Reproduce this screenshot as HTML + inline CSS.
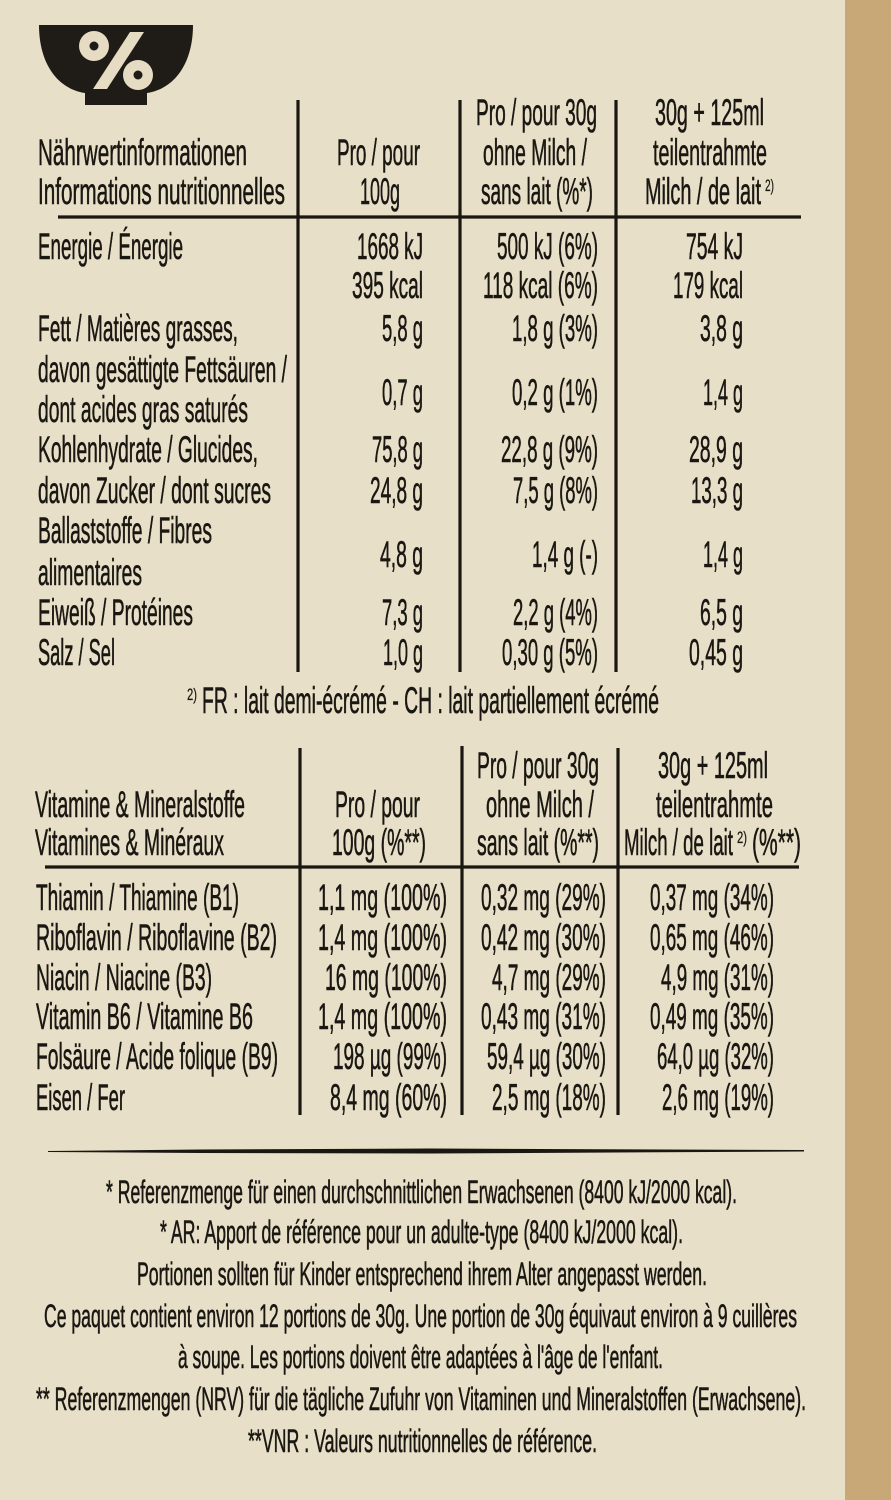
<!DOCTYPE html>
<html>
<head>
<meta charset="utf-8">
<style>
html,body{margin:0;padding:0;background:#e7dfc7;}
svg{display:block;}
text{font-family:"Liberation Sans",Arial,sans-serif;fill:#1a1712;stroke:#1a1712;stroke-width:0.6;}
.t{font-size:37.5px;}
.f{font-size:32px;}
.s{font-size:17px;stroke-width:0.25;}
</style>
</head>
<body>
<svg width="891" height="1500" viewBox="0 0 891 1500" xmlns="http://www.w3.org/2000/svg">
<rect x="0" y="0" width="891" height="1500" fill="#e7dfc7"/>
<rect x="845" y="0" width="46" height="1500" fill="#c9a878"/>

<!-- Bowl icon -->
<path d="M39,25 L193,25 C193,64 174,89 147,93 L147,105 L85,105 L85,93 C58,89 39,64 39,25 Z" fill="#1f1b16"/>
<circle cx="94" cy="46" r="15" fill="#e6dcc3"/>
<circle cx="94" cy="46" r="4.5" fill="#1f1b16"/>
<circle cx="138" cy="75" r="15" fill="#e6dcc3"/>
<circle cx="138" cy="75" r="4.5" fill="#1f1b16"/>
<polygon points="130,32 144,32 107,89 93,89" fill="#e6dcc3"/>

<!-- Top table lines -->
<g stroke="#1a1712" stroke-width="3.2" fill="none">
<line x1="298" y1="100" x2="298" y2="672"/>
<line x1="460" y1="100" x2="460" y2="672"/>
<line x1="616" y1="100" x2="616" y2="672"/>
<line x1="58" y1="217" x2="801" y2="217"/>
</g>

<!-- Top headers -->
<text x="38" y="165" textLength="209" lengthAdjust="spacingAndGlyphs" class="t">Nährwertinformationen</text>
<text x="38" y="204" textLength="247" lengthAdjust="spacingAndGlyphs" class="t">Informations nutritionnelles</text>
<text x="337" y="165" textLength="83" lengthAdjust="spacingAndGlyphs" class="t">Pro / pour</text>
<text x="360" y="204" textLength="40" lengthAdjust="spacingAndGlyphs" class="t">100g</text>
<text x="476" y="125" textLength="121" lengthAdjust="spacingAndGlyphs" class="t">Pro / pour 30g</text>
<text x="483" y="165" textLength="104" lengthAdjust="spacingAndGlyphs" class="t">ohne Milch /</text>
<text x="481" y="204" textLength="112" lengthAdjust="spacingAndGlyphs" class="t">sans lait (%*)</text>
<text x="655" y="125" textLength="109" lengthAdjust="spacingAndGlyphs" class="t">30g + 125ml</text>
<text x="653" y="165" textLength="114" lengthAdjust="spacingAndGlyphs" class="t">teilentrahmte</text>
<text x="645" y="204" textLength="116" lengthAdjust="spacingAndGlyphs" class="t">Milch / de lait</text>
<text x="765" y="191" textLength="9" lengthAdjust="spacingAndGlyphs" class="s">2)</text>

<!-- Top rows labels -->
<text x="38" y="259" textLength="145" lengthAdjust="spacingAndGlyphs" class="t">Energie / Énergie</text>
<text x="38" y="341" textLength="200" lengthAdjust="spacingAndGlyphs" class="t">Fett / Matières grasses,</text>
<text x="38" y="382" textLength="249" lengthAdjust="spacingAndGlyphs" class="t">davon gesättigte Fettsäuren /</text>
<text x="38" y="422" textLength="210" lengthAdjust="spacingAndGlyphs" class="t">dont acides gras saturés</text>
<text x="38" y="462" textLength="220" lengthAdjust="spacingAndGlyphs" class="t">Kohlenhydrate / Glucides,</text>
<text x="38" y="503" textLength="233" lengthAdjust="spacingAndGlyphs" class="t">davon Zucker / dont sucres</text>
<text x="38" y="543" textLength="174" lengthAdjust="spacingAndGlyphs" class="t">Ballaststoffe / Fibres</text>
<text x="38" y="585" textLength="104" lengthAdjust="spacingAndGlyphs" class="t">alimentaires</text>
<text x="38" y="625" textLength="155" lengthAdjust="spacingAndGlyphs" class="t">Eiweiß / Protéines</text>
<text x="38" y="665" textLength="77" lengthAdjust="spacingAndGlyphs" class="t">Salz / Sel</text>

<!-- Col 2 -->
<text x="357" y="259" textLength="66" lengthAdjust="spacingAndGlyphs" class="t">1668 kJ</text>
<text x="352" y="298" textLength="71" lengthAdjust="spacingAndGlyphs" class="t">395 kcal</text>
<text x="382" y="341" textLength="41" lengthAdjust="spacingAndGlyphs" class="t">5,8 g</text>
<text x="382" y="405" textLength="41" lengthAdjust="spacingAndGlyphs" class="t">0,7 g</text>
<text x="372" y="462" textLength="51" lengthAdjust="spacingAndGlyphs" class="t">75,8 g</text>
<text x="370" y="503" textLength="53" lengthAdjust="spacingAndGlyphs" class="t">24,8 g</text>
<text x="380" y="567" textLength="43" lengthAdjust="spacingAndGlyphs" class="t">4,8 g</text>
<text x="382" y="625" textLength="41" lengthAdjust="spacingAndGlyphs" class="t">7,3 g</text>
<text x="383" y="665" textLength="40" lengthAdjust="spacingAndGlyphs" class="t">1,0 g</text>

<!-- Col 3 -->
<text x="497" y="259" textLength="101" lengthAdjust="spacingAndGlyphs" class="t">500 kJ (6%)</text>
<text x="483" y="298" textLength="115" lengthAdjust="spacingAndGlyphs" class="t">118 kcal (6%)</text>
<text x="512" y="341" textLength="86" lengthAdjust="spacingAndGlyphs" class="t">1,8 g (3%)</text>
<text x="512" y="405" textLength="86" lengthAdjust="spacingAndGlyphs" class="t">0,2 g (1%)</text>
<text x="501" y="462" textLength="97" lengthAdjust="spacingAndGlyphs" class="t">22,8 g (9%)</text>
<text x="513" y="503" textLength="85" lengthAdjust="spacingAndGlyphs" class="t">7,5 g (8%)</text>
<text x="532" y="567" textLength="66" lengthAdjust="spacingAndGlyphs" class="t">1,4 g (-)</text>
<text x="513" y="625" textLength="85" lengthAdjust="spacingAndGlyphs" class="t">2,2 g (4%)</text>
<text x="502" y="665" textLength="96" lengthAdjust="spacingAndGlyphs" class="t">0,30 g (5%)</text>

<!-- Col 4 -->
<text x="686" y="259" textLength="57" lengthAdjust="spacingAndGlyphs" class="t">754 kJ</text>
<text x="673" y="298" textLength="70" lengthAdjust="spacingAndGlyphs" class="t">179 kcal</text>
<text x="700" y="341" textLength="43" lengthAdjust="spacingAndGlyphs" class="t">3,8 g</text>
<text x="703" y="405" textLength="40" lengthAdjust="spacingAndGlyphs" class="t">1,4 g</text>
<text x="689" y="462" textLength="54" lengthAdjust="spacingAndGlyphs" class="t">28,9 g</text>
<text x="691" y="503" textLength="52" lengthAdjust="spacingAndGlyphs" class="t">13,3 g</text>
<text x="703" y="567" textLength="40" lengthAdjust="spacingAndGlyphs" class="t">1,4 g</text>
<text x="700" y="625" textLength="43" lengthAdjust="spacingAndGlyphs" class="t">6,5 g</text>
<text x="689" y="665" textLength="54" lengthAdjust="spacingAndGlyphs" class="t">0,45 g</text>

<!-- Footnote 2) -->
<text x="187" y="700" textLength="10" lengthAdjust="spacingAndGlyphs" class="s">2)</text>
<text x="202" y="713" textLength="457" lengthAdjust="spacingAndGlyphs" class="t">FR : lait demi-écrémé - CH : lait partiellement écrémé</text>

<!-- Second table lines -->
<g stroke="#1a1712" stroke-width="3.2" fill="none">
<line x1="300" y1="748" x2="300" y2="1115"/>
<line x1="462" y1="746" x2="462" y2="1115"/>
<line x1="618" y1="748" x2="618" y2="1115"/>
<line x1="45" y1="867" x2="799" y2="867"/>
</g>

<!-- Second table headers -->
<text x="35" y="817" textLength="210" lengthAdjust="spacingAndGlyphs" class="t">Vitamine &amp; Mineralstoffe</text>
<text x="35" y="855" textLength="189" lengthAdjust="spacingAndGlyphs" class="t">Vitamines &amp; Minéraux</text>
<text x="335" y="817" textLength="85" lengthAdjust="spacingAndGlyphs" class="t">Pro / pour</text>
<text x="332" y="855" textLength="94" lengthAdjust="spacingAndGlyphs" class="t">100g (%**)</text>
<text x="477" y="778" textLength="122" lengthAdjust="spacingAndGlyphs" class="t">Pro / pour 30g</text>
<text x="486" y="817" textLength="108" lengthAdjust="spacingAndGlyphs" class="t">ohne Milch /</text>
<text x="477" y="855" textLength="122" lengthAdjust="spacingAndGlyphs" class="t">sans lait (%**)</text>
<text x="658" y="778" textLength="110" lengthAdjust="spacingAndGlyphs" class="t">30g + 125ml</text>
<text x="656" y="817" textLength="117" lengthAdjust="spacingAndGlyphs" class="t">teilentrahmte</text>
<text x="624" y="855" textLength="109" lengthAdjust="spacingAndGlyphs" class="t">Milch / de lait</text>
<text x="737" y="843" textLength="10" lengthAdjust="spacingAndGlyphs" class="s">2)</text>
<text x="752" y="855" textLength="49" lengthAdjust="spacingAndGlyphs" class="t">(%**)</text>

<!-- Vitamin rows labels -->
<text x="36" y="910" textLength="203" lengthAdjust="spacingAndGlyphs" class="t">Thiamin / Thiamine (B1)</text>
<text x="36" y="950" textLength="241" lengthAdjust="spacingAndGlyphs" class="t">Riboflavin / Riboflavine (B2)</text>
<text x="36" y="990" textLength="176" lengthAdjust="spacingAndGlyphs" class="t">Niacin / Niacine (B3)</text>
<text x="36" y="1029" textLength="217" lengthAdjust="spacingAndGlyphs" class="t">Vitamin B6 / Vitamine B6</text>
<text x="36" y="1069" textLength="242" lengthAdjust="spacingAndGlyphs" class="t">Folsäure / Acide folique (B9)</text>
<text x="36" y="1110" textLength="89" lengthAdjust="spacingAndGlyphs" class="t">Eisen / Fer</text>

<!-- Vit col 2 -->
<text x="318" y="910" textLength="129" lengthAdjust="spacingAndGlyphs" class="t">1,1 mg (100%)</text>
<text x="318" y="950" textLength="129" lengthAdjust="spacingAndGlyphs" class="t">1,4 mg (100%)</text>
<text x="325" y="990" textLength="122" lengthAdjust="spacingAndGlyphs" class="t">16 mg (100%)</text>
<text x="318" y="1029" textLength="129" lengthAdjust="spacingAndGlyphs" class="t">1,4 mg (100%)</text>
<text x="333" y="1069" textLength="114" lengthAdjust="spacingAndGlyphs" class="t">198 µg (99%)</text>
<text x="330" y="1110" textLength="117" lengthAdjust="spacingAndGlyphs" class="t">8,4 mg (60%)</text>

<!-- Vit col 3 -->
<text x="481" y="910" textLength="125" lengthAdjust="spacingAndGlyphs" class="t">0,32 mg (29%)</text>
<text x="481" y="950" textLength="125" lengthAdjust="spacingAndGlyphs" class="t">0,42 mg (30%)</text>
<text x="492" y="990" textLength="114" lengthAdjust="spacingAndGlyphs" class="t">4,7 mg (29%)</text>
<text x="481" y="1029" textLength="125" lengthAdjust="spacingAndGlyphs" class="t">0,43 mg (31%)</text>
<text x="487" y="1069" textLength="119" lengthAdjust="spacingAndGlyphs" class="t">59,4 µg (30%)</text>
<text x="492" y="1110" textLength="114" lengthAdjust="spacingAndGlyphs" class="t">2,5 mg (18%)</text>

<!-- Vit col 4 -->
<text x="650" y="910" textLength="124" lengthAdjust="spacingAndGlyphs" class="t">0,37 mg (34%)</text>
<text x="650" y="950" textLength="124" lengthAdjust="spacingAndGlyphs" class="t">0,65 mg (46%)</text>
<text x="661" y="990" textLength="113" lengthAdjust="spacingAndGlyphs" class="t">4,9 mg (31%)</text>
<text x="650" y="1029" textLength="124" lengthAdjust="spacingAndGlyphs" class="t">0,49 mg (35%)</text>
<text x="657" y="1069" textLength="117" lengthAdjust="spacingAndGlyphs" class="t">64,0 µg (32%)</text>
<text x="662" y="1110" textLength="112" lengthAdjust="spacingAndGlyphs" class="t">2,6 mg (19%)</text>

<!-- Separator brush line -->
<polygon points="48,1151 200,1149.5 430,1148.5 804,1150 804,1151.5 430,1153.5 200,1153 48,1152" fill="#1a1712"/>

<!-- Bottom footnotes -->
<text x="106" y="1203" textLength="631" lengthAdjust="spacingAndGlyphs" class="f">* Referenzmenge für einen durchschnittlichen Erwachsenen (8400 kJ/2000 kcal).</text>
<text x="160" y="1243" textLength="523" lengthAdjust="spacingAndGlyphs" class="f">* AR: Apport de référence pour un adulte-type (8400 kJ/2000 kcal).</text>
<text x="137" y="1285" textLength="570" lengthAdjust="spacingAndGlyphs" class="f">Portionen sollten für Kinder entsprechend ihrem Alter angepasst werden.</text>
<text x="44" y="1327" textLength="753" lengthAdjust="spacingAndGlyphs" class="f">Ce paquet contient environ 12 portions de 30g. Une portion de 30g équivaut environ à 9 cuillères</text>
<text x="178" y="1368" textLength="485" lengthAdjust="spacingAndGlyphs" class="f">à soupe. Les portions doivent être adaptées à l'âge de l'enfant.</text>
<text x="36" y="1410" textLength="770" lengthAdjust="spacingAndGlyphs" class="f">** Referenzmengen (NRV) für die tägliche Zufuhr von Vitaminen und Mineralstoffen (Erwachsene).</text>
<text x="248" y="1452" textLength="349" lengthAdjust="spacingAndGlyphs" class="f">**VNR : Valeurs nutritionnelles de référence.</text>
</svg>
</body>
</html>
